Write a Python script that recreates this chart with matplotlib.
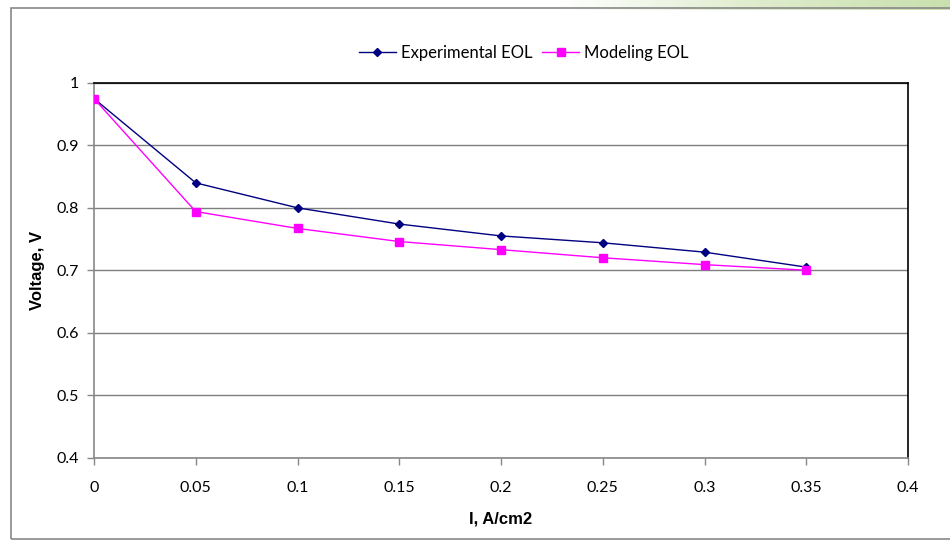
import numpy as np
import matplotlib
matplotlib.use("Agg")
import matplotlib.pyplot as plt
from matplotlib.patches import Rectangle

current = [0, 0.05, 0.1, 0.15, 0.2, 0.25, 0.3, 0.35]
exp_eol = [0.975, 0.840, 0.800, 0.774, 0.755, 0.744, 0.729, 0.705]
model_eol = [0.975, 0.794, 0.767, 0.746, 0.733, 0.720, 0.709, 0.700]

x_ticks = [0, 0.05, 0.1, 0.15, 0.2, 0.25, 0.3, 0.35, 0.4]
x_tick_labels = ["0", "0.05", "0.1", "0.15", "0.2", "0.25", "0.3", "0.35", "0.4"]
y_ticks = [0.4, 0.5, 0.6, 0.7, 0.8, 0.9, 1.0]
y_tick_labels = ["0.4", "0.5", "0.6", "0.7", "0.8", "0.9", "1"]

W, H = 950, 541
fig = plt.figure(figsize=(W / 100, H / 100), dpi=100)

# light green slide decoration at the top right
deco = fig.add_axes([560 / W, 1 - 10 / H, 390 / W, 10 / H])
grad = np.linspace(0, 1, 256).reshape(1, -1)
deco.imshow(grad, aspect="auto", cmap=matplotlib.colors.LinearSegmentedColormap.from_list(
    "g", ["#ffffff", "#dfeccd", "#c9e0ae"]), extent=[0, 1, 0, 1])
deco.axis("off")

# outer chart frame
fig.patches.append(Rectangle((11 / W, 2 / H), 960 / W, 531 / H,
                             transform=fig.transFigure, fill=False,
                             edgecolor="#888888", linewidth=1.2))

ax = fig.add_axes([94 / W, 1 - 457.5 / H, (908 - 94) / W, (457.5 - 83) / H])

ax.plot(current, exp_eol, color="#000080", marker="D", markersize=4.5,
        linewidth=1.0, label="Experimental EOL", zorder=3)
ax.plot(current, model_eol, color="#FF00FF", marker="s", markersize=6,
        linewidth=1.0, label="Modeling EOL", zorder=3)

ax.set_xlim(0, 0.4)
ax.set_ylim(0.4, 1.0)
ax.set_xticks(x_ticks)
ax.set_xticklabels(x_tick_labels, family="Lato", fontsize=11.5)
ax.set_yticks(y_ticks)
ax.set_yticklabels(y_tick_labels, family="Lato", fontsize=11.5)
ax.tick_params(axis="both", direction="out", length=5, width=1, color="#888888")
ax.tick_params(axis="x", pad=12)
ax.tick_params(axis="y", pad=6)

ax.grid(axis="y", color="#7f7f7f", linewidth=1.0)
ax.set_axisbelow(True)
ax.spines["left"].set_color("#888888")
ax.spines["bottom"].set_color("#888888")
ax.spines["top"].set_color("black")
ax.spines["right"].set_color("black")
for s in ax.spines.values():
    s.set_linewidth(1.2)

ax.set_xlabel("I, A/cm2", family="Liberation Sans", fontweight="bold", fontsize=12, labelpad=12)
ax.set_ylabel("Voltage, V", family="Liberation Sans", fontweight="bold", fontsize=12, labelpad=8)

leg = ax.legend(loc="lower center", bbox_to_anchor=(0.528, 1.02), ncol=2, frameon=False,
                prop={"family": "Lato", "size": 12}, handlelength=2.2,
                handletextpad=0.3, columnspacing=0.6)

fig.savefig("out.png", dpi=100)
